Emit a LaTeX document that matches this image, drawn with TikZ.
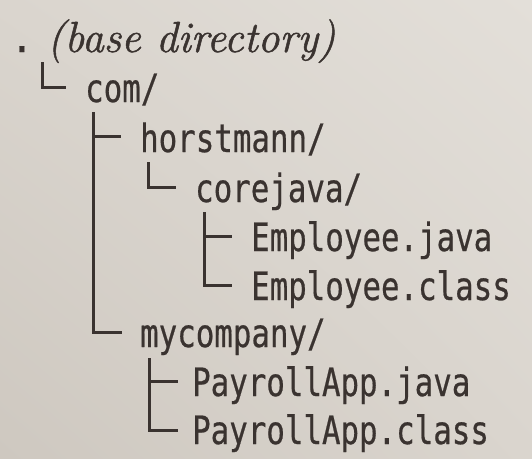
\documentclass[tikz,border=0pt]{standalone}
\usepackage{fontspec}
\usepackage{graphicx}
\usetikzlibrary{calc,shadings}
\newfontfamily\monofam{DejaVu Sans Mono}[FakeBold=0.6]
\newfontfamily\basefam{Latin Modern Roman}[FakeBold=1.2]
\definecolor{ink}{HTML}{3A3330}
\definecolor{paperA}{HTML}{E3DFD9}
\definecolor{paperM}{HTML}{DAD5CE}
\definecolor{paperB}{HTML}{CEC8C0}
\begin{document}
\begin{tikzpicture}[x=1pt,y=-1pt,
  file/.style={anchor=base west, inner sep=0pt, text=ink,
    font=\fontsize{39}{41}\selectfont\monofam, xscale=0.79},
  tree/.style={draw=ink, line width=3pt}]
\useasboundingbox (0,0) rectangle (532,458);
\shade[lower left=paperB, upper right=paperA, lower right=paperM, upper left=paperM]
  (0,0) rectangle (532,458);
% nodes
\node[anchor=base, inner sep=0pt, text=ink, font=\fontsize{39}{41}\selectfont\monofam] (root) at (22,52) {.};
\node[anchor=base west, inner sep=0pt, text=ink, font=\fontsize{43.5}{45}\selectfont\basefam\itshape] (basedir) at (47,52) {(base directory)};
\node[file] (com)    at (85,102)  {com/};
\node[file] (horst)  at (140,152) {horstmann/};
\node[file] (core)   at (195,202) {corejava/};
\node[file] (ejava)  at (251,251) {Employee.java};
\node[file] (eclass) at (251,300) {Employee.class};
\node[file] (myco)   at (140,347) {mycompany/};
\node[file] (pjava)  at (192,396) {PayrollApp.java};
\node[file] (pclass) at (192,444) {PayrollApp.class};
% connectors
\draw[tree] ($(root.base)+(20,10)$) |- ($(com.base west)+(-19,-15)$);
\draw[tree] ($(com.base west)+(8,10)$) |- ($(horst.base west)+(-19,-16)$);
\draw[tree] ($(com.base west)+(8,10)$) |- ($(myco.base west)+(-18,-15)$);
\draw[tree] ($(horst.base west)+(8,10)$) |- ($(core.base west)+(-19,-15)$);
\draw[tree] ($(core.base west)+(9,10)$) |- ($(ejava.base west)+(-19,-15)$);
\draw[tree] ($(core.base west)+(9,10)$) |- ($(eclass.base west)+(-19,-15)$);
\draw[tree] ($(myco.base west)+(9,11)$) |- ($(pjava.base west)+(-14,-15)$);
\draw[tree] ($(myco.base west)+(9,11)$) |- ($(pclass.base west)+(-14,-14)$);
\end{tikzpicture}
\end{document}
